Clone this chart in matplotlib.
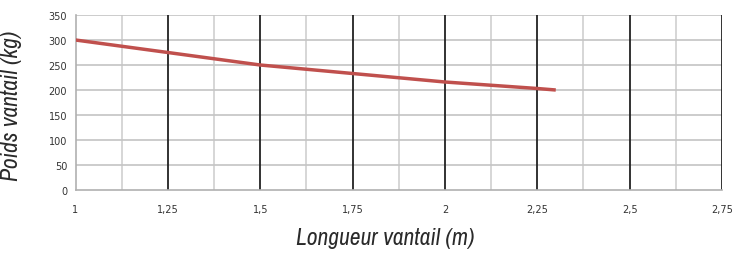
import matplotlib
matplotlib.use("Agg")
import matplotlib.pyplot as plt
from matplotlib import font_manager

x_vals = [1.0, 1.25, 1.5, 1.75, 2.0, 2.25, 2.3]
y_vals = [300, 275, 250, 233, 216, 203, 200]
x_ticks = [1, 1.25, 1.5, 1.75, 2, 2.25, 2.5, 2.75]
x_tick_labels = ["1", "1,25", "1,5", "1,75", "2", "2,25", "2,5", "2,75"]
y_ticks = [0, 50, 100, 150, 200, 250, 300, 350]

names = sorted({f.name for f in font_manager.fontManager.ttflist})
cond = [n for n in names if "Narrow" in n or "Condensed" in n]

W, H = 738, 255
fig = plt.figure(figsize=(W/100, H/100), dpi=100)
ax = fig.add_axes([75.5/W, 1-191/H, (722-75.5)/W, (191-16)/H])
ax.set_xlim(1, 2.75)
ax.set_ylim(0, 350)

for xm in [1.125, 1.375, 1.625, 1.875, 2.125, 2.375, 2.625]:
    ax.axvline(xm, color="#d0d0d0", lw=1.2, zorder=1)
for yv in y_ticks[1:]:
    ax.axhline(yv, color="#c4c4c4", lw=1.2, zorder=1)
for xv in x_ticks[1:]:
    ax.axvline(xv, color="#222222", lw=1.3, zorder=2)

ax.plot(x_vals, y_vals, color="#C0504D", lw=2.5, zorder=3, solid_capstyle="butt")

ax.set_xticks(x_ticks)
ax.set_xticklabels(x_tick_labels)
ax.set_yticks(y_ticks)
ax.tick_params(axis="both", length=0, labelsize=7, colors="#333333", pad=6)
ax.tick_params(axis="x", pad=10)
for side in ["top", "right"]:
    ax.spines[side].set_visible(False)
for side in ["left", "bottom"]:
    ax.spines[side].set_color("#b0b0b0")
    ax.spines[side].set_linewidth(1.2)

fam = cond[0] if cond else "DejaVu Sans"
lab_font = dict(family=[fam, "DejaVu Sans"], style="italic", stretch="condensed",
                weight="light", size=17, color="#2a2a2a")
fig.text(385/W, 1-239/H, "Longueur vantail (m)", ha="center", va="center", **lab_font)
fig.text(12/W, 1-106/H, "Poids vantail (kg)", ha="center", va="center", rotation=90, **lab_font)

fig.savefig("out.png", dpi=100)
